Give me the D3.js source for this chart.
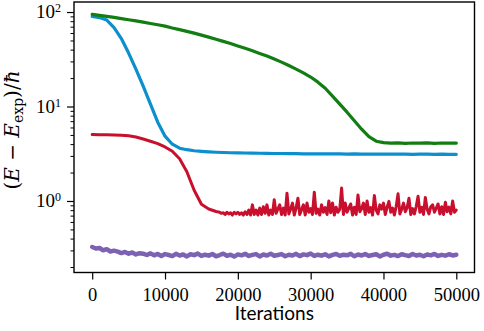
<!DOCTYPE html>
<html lang="en">
<head>
  <meta charset="UTF-8">
  <title>Energy convergence vs iterations</title>
  <script src="https://d3js.org/d3.v7.min.js"></script>
  <style>
    body {
      margin: 0;
      background: #fff;
    }
    svg {
      display: block;
    }
    .tick-label {
      font-family: "Liberation Serif", serif;
      font-size: 19px;
      fill: #000;
    }
    .axis-title {
      font-family: Lato, "Noto Sans", sans-serif;
      font-size: 19px;
      fill: #000;
    }
    .math {
      font-family: "DejaVu Serif", serif;
      font-size: 20px;
      fill: #000;
    }
  </style>
</head>
<body>
  <svg id="chart" width="484" height="331"></svg>

  <script>
    const svg = d3.select("#chart");

    // x ticks and y decades
    const xTicks = [0, 10000, 20000, 30000, 40000, 50000];
    const yMajor = [1, 10, 100];
    const yMinor = [0.2, 0.3, 0.4, 0.5, 0.6, 0.7, 0.8, 0.9,
                    2, 3, 4, 5, 6, 7, 8, 9,
                    20, 30, 40, 50, 60, 70, 80, 90];

    // sampled every 1000 iterations, 0 .. 50000
    const greenVals = [94.5, 92.3, 90.0, 87.7, 85.3, 82.9, 80.5, 78.2, 75.7, 73.3,
      70.9, 67.7, 65.1, 62.4, 59.8, 57.0, 54.3, 51.6, 48.9, 46.4,
      43.8, 41.3, 38.9, 36.5, 34.2, 31.8, 29.5, 27.2, 24.9, 22.7,
      20.5, 18.1, 15.6, 12.9, 10.6, 8.71, 7.08, 5.75, 4.79, 4.29,
      4.14, 4.09, 4.12, 4.08, 4.11, 4.09, 4.12, 4.08, 4.11, 4.09, 4.10];

    const blueVals = [89.6, 87.4, 82.3, 68.5, 52.4, 36.8, 24.9, 16.4, 10.6, 6.83,
      4.85, 3.99, 3.62, 3.49, 3.40, 3.35, 3.31, 3.28, 3.26, 3.24,
      3.23, 3.22, 3.21, 3.20, 3.19, 3.18, 3.18, 3.17, 3.17, 3.16,
      3.16, 3.15, 3.16, 3.15, 3.15, 3.14, 3.15, 3.14, 3.14, 3.13,
      3.14, 3.13, 3.13, 3.14, 3.12, 3.13, 3.13, 3.12, 3.13, 3.12, 3.12];

    // red: smooth part every 1000 (0 .. 17000), then every 250 (17500 .. 50000)
    const redSmooth = [5.04, 5.03, 5.02, 4.99, 4.96, 4.90, 4.76, 4.53, 4.29, 4.05,
      3.73, 3.36, 2.80, 2.04, 1.30, 0.923, 0.823, 0.774];
    const redNoisy = [0.76, 0.74,
      0.75, 0.72, 0.76, 0.73,  0.75, 0.71, 0.76, 0.73,  0.76, 0.72, 0.75, 0.71,
      0.77, 0.72, 0.80, 0.71,  0.91, 0.72, 0.80, 0.71,  0.84, 0.72, 0.87, 0.74,
      0.91, 0.71, 0.80, 0.72,  1.03, 0.74, 0.82, 0.91,  0.72, 0.84, 0.71, 1.21,
      0.73, 0.82, 0.95, 0.71,  0.84, 1.07, 0.72, 0.81,  0.91, 0.71, 0.95, 0.76,
      0.83, 0.72, 1.24, 0.74,  0.82, 0.71, 0.91, 0.76,  0.85, 0.72, 1.00, 0.75,
      0.95, 0.71, 0.86, 0.76,  0.82, 1.37, 0.72, 0.95,  0.76, 0.84, 0.93, 0.71,
      0.86, 0.72, 1.16, 0.77,  0.83, 0.95, 0.72, 1.00,  0.76, 0.85, 0.71, 1.14,
      0.80, 0.73, 0.91, 0.82,  0.95, 0.72, 0.86, 0.99,  0.76, 0.84, 0.71, 0.88,
      1.19, 0.73, 0.82, 0.95,  0.77, 0.85, 1.07, 0.72,  0.83, 0.73, 0.88, 1.12,
      0.76, 0.86, 0.72, 1.09,  0.82, 0.73, 0.87, 0.91,  0.76, 0.84, 0.93, 0.73,
      0.87, 0.72, 0.97, 0.77,  0.86, 0.73, 1.00, 0.76,
      0.80];

    // purple: every 500 iterations
    const purpleVals = [0.326, 0.314, 0.318, 0.301, 0.309, 0.292, 0.298, 0.291, 0.281, 0.289,
      0.277, 0.285, 0.272, 0.280, 0.277, 0.268, 0.279, 0.266, 0.275, 0.262,
      0.274, 0.268, 0.261, 0.276, 0.265, 0.271, 0.259, 0.273, 0.267, 0.278,
      0.262, 0.270, 0.264, 0.275, 0.260, 0.268, 0.277, 0.263, 0.270, 0.258,
      0.272, 0.266, 0.276, 0.262, 0.269, 0.274, 0.259, 0.271, 0.265, 0.277,
      0.263, 0.268, 0.274, 0.260, 0.270, 0.265, 0.276, 0.261, 0.272, 0.267,
      0.278, 0.262, 0.270, 0.264, 0.273, 0.259, 0.269, 0.275, 0.263, 0.270,
      0.266, 0.276, 0.260, 0.271, 0.265, 0.274, 0.262, 0.268, 0.273, 0.259,
      0.270, 0.276, 0.264, 0.269, 0.261, 0.273, 0.267, 0.262, 0.275, 0.265,
      0.270, 0.260, 0.272, 0.266, 0.275, 0.262, 0.269, 0.264, 0.273, 0.265,
      0.270];

    const colors = {
      green: "#127d12",
      blue: "#0b8fcd",
      red: "#c8102e",
      purple: "#7d62b4"
    };

    // pair values with their iteration
    const withStep = (vals, start, step) => vals.map((v, i) => [start + i * step, v]);

    const series = [
      { name: "blue", width: 3.2, points: withStep(blueVals, 0, 1000) },
      { name: "green", width: 3.2, points: withStep(greenVals, 0, 1000) },
      { name: "red", width: 3, points: withStep(redSmooth, 0, 1000).concat(withStep(redNoisy, 17500, 250)) },
      { name: "purple", width: 4.5, points: withStep(purpleVals, 0, 500) }
    ];

    const plotLeft = 74, plotRight = 474.5, plotTop = 2, plotBottom = 272.5;

    const x = d3.scaleLinear().domain([-2500, 52500]).range([plotLeft, plotRight]);
    const y = d3.scaleLog().domain([0.175, 127.7]).range([plotBottom, plotTop]);

    const line = d3.line()
      .x(d => x(d[0]))
      .y(d => y(d[1]));

    svg.append("g")
      .selectAll("path")
      .data(series)
      .join("path")
      .attr("d", d => line(d.points))
      .attr("fill", "none")
      .attr("stroke", d => colors[d.name])
      .attr("stroke-width", d => d.width)
      .attr("stroke-linejoin", "round")
      .attr("stroke-linecap", "round");

    // x axis
    const xAxis = svg.append("g")
      .attr("transform", `translate(0,${plotBottom})`)
      .call(d3.axisBottom(x).tickValues(xTicks).tickSize(7).tickPadding(8).tickFormat(d3.format("d")));
    xAxis.select(".domain").remove();
    xAxis.selectAll("line").attr("stroke", "#000").attr("stroke-width", 1.2);
    xAxis.selectAll("text")
      .attr("class", "tick-label")
      .attr("fill", "#000")
      .style("font-family", "'Liberation Serif', serif")
      .style("font-size", "18.5px");

    // y axis, major and minor ticks
    const yAxis = svg.append("g")
      .attr("transform", `translate(${plotLeft},0)`)
      .call(d3.axisLeft(y).tickValues(yMajor).tickSize(7).tickFormat(""));
    yAxis.select(".domain").remove();
    yAxis.selectAll("line").attr("stroke", "#000").attr("stroke-width", 1.2);

    const yMinorAxis = svg.append("g")
      .attr("transform", `translate(${plotLeft},0)`)
      .call(d3.axisLeft(y).tickValues(yMinor).tickSize(3.5).tickFormat(""));
    yMinorAxis.select(".domain").remove();
    yMinorAxis.selectAll("line").attr("stroke", "#000").attr("stroke-width", 1);

    // 10^k labels
    const yLabels = svg.append("g");
    yMajor.forEach(v => {
      const t = yLabels.append("text")
        .attr("class", "tick-label")
        .attr("x", 61)
        .attr("y", y(v) + 6)
        .attr("text-anchor", "end")
        .text("10");
      t.append("tspan")
        .attr("dy", -6)
        .style("font-size", "12px")
        .text(Math.round(Math.log10(v)));
    });

    // frame
    svg.append("rect")
      .attr("x", plotLeft)
      .attr("y", plotTop)
      .attr("width", plotRight - plotLeft)
      .attr("height", plotBottom - plotTop)
      .attr("fill", "none")
      .attr("stroke", "#000")
      .attr("stroke-width", 1.4);

    // axis titles
    svg.append("text")
      .attr("class", "axis-title")
      .attr("x", (plotLeft + plotRight) / 2)
      .attr("y", 320)
      .attr("text-anchor", "middle")
      .text("Iterations");

    const yTitle = svg.append("text")
      .attr("class", "math")
      .attr("transform", `translate(19,130) rotate(-90)`)
      .attr("text-anchor", "middle");
    yTitle.append("tspan").text("(");
    yTitle.append("tspan").style("font-style", "italic").text("E");
    yTitle.append("tspan").text(" \u2212 ");
    yTitle.append("tspan").style("font-style", "italic").text("E");
    yTitle.append("tspan").attr("dy", 4).style("font-size", "14px").text("exp");
    yTitle.append("tspan").attr("dy", -4).text(")/");
    yTitle.append("tspan").style("font-style", "italic").text("\u0127");
  </script>
</body>
</html>
